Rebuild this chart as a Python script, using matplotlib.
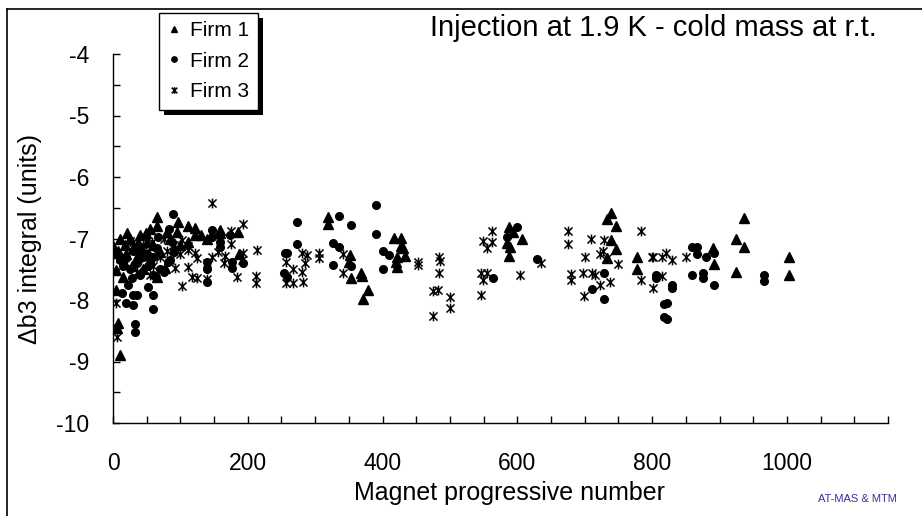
import numpy as np
import matplotlib
matplotlib.use("Agg")
import matplotlib.pyplot as plt
from matplotlib.path import Path
from matplotlib.lines import Line2D
from matplotlib.patches import Rectangle
from matplotlib.ticker import MultipleLocator

plt.rcParams['font.family'] = ['Liberation Sans', 'DejaVu Sans']
plt.rcParams['axes.unicode_minus'] = False

# Firm 1 (triangles)
firm1_x = [65, 65, 96, 111, 122, 49, 21, 10, 0, 0, 37, 70, 77, 4, 15, 4, 7, 6, 10, 95,
           111, 122, 159, 159, 186, 187, 65,
           25, 30, 35, 45, 50, 55, 20, 12, 40, 60, 85, 80, 28, 18, 8, 45, 55, 100, 90, 130, 140,
           319, 319, 352, 350, 368, 370, 353, 378, 371, 417, 427, 427, 430, 433, 421, 420, 421,
           588, 594, 585, 589, 607, 588,
           739, 733, 746, 739, 746, 733, 778, 778, 890, 892, 936, 925, 936, 925, 1003, 1003]
firm1_y = [-6.65, -6.80, -6.73, -6.80, -6.83, -6.91, -6.91, -7.01, -7.12, -7.24, -7.07, -7.22,
           -7.48, -7.51, -7.63, -7.84, -8.37, -8.46, -8.89, -6.89, -7.06, -6.94, -6.86, -6.91,
           -6.89, -7.25, -7.63,
           -7.00, -7.15, -7.30, -7.20, -7.05, -7.35, -7.25, -7.30, -6.95, -7.10, -7.00, -6.90,
           -7.45, -7.10, -7.20, -7.50, -6.85, -7.10, -7.15, -6.95, -7.00,
           -6.65, -6.76, -7.27, -7.38, -7.56, -7.61, -7.64, -7.84, -7.98, -6.99, -6.99, -7.12,
           -7.15, -7.28, -7.30, -7.38, -7.46,
           -6.81, -6.89, -7.07, -7.14, -7.01, -7.28,
           -6.59, -6.68, -6.80, -7.02, -7.17, -7.32, -7.30, -7.50, -7.15, -7.41, -6.67, -7.01,
           -7.14, -7.54, -7.30, -7.59]

# Firm 2 (circles)
firm2_x = [89, 83, 67, 147, 147, 159, 159, 139, 139, 139, 174, 177, 177, 193, 255, 258, 273, 273,
           254, 258, 13, 19, 30, 33, 33, 59, 59, 52, 30, 36, 88, 91, 85, 82, 52, 59, 64,
           20, 25, 35, 40, 45, 15, 30, 50, 55, 10, 40, 28, 22, 60, 70, 75, 65,
           335, 353, 326, 335, 326, 353, 390, 390, 401, 410, 401, 564, 600, 585,
           629, 729, 711, 729, 806, 806, 830, 830, 818, 822, 818, 822, 859, 867, 867, 880, 892,
           859, 876, 876, 892, 966, 966]
firm2_y = [-6.60, -6.85, -6.98, -6.86, -6.98, -7.06, -7.14, -7.38, -7.50, -7.71, -6.94, -7.38,
           -7.48, -7.40, -7.24, -7.24, -6.73, -7.09, -7.56, -7.63, -7.89, -8.05, -8.08, -8.39,
           -8.52, -7.92, -8.15, -7.79, -7.92, -7.92, -7.06, -7.22, -7.35, -7.38, -7.45, -7.59,
           -7.63,
           -7.30, -7.50, -7.40, -7.60, -7.30, -7.45, -7.20, -7.25, -7.40, -7.35, -7.15, -7.65,
           -7.75, -7.30, -7.50, -7.55, -7.15,
           -6.63, -6.78, -7.07, -7.14, -7.43, -7.45, -6.46, -6.93, -7.20, -7.27, -7.50, -7.64,
           -6.81, -6.98,
           -7.33, -7.56, -7.82, -7.98, -7.59, -7.64, -7.76, -7.80, -8.07, -8.05, -8.28, -8.31,
           -7.14, -7.14, -7.25, -7.30, -7.24, -7.59, -7.56, -7.64, -7.76, -7.59, -7.69]

# Firm 3 (stars)
firm3_x = [147, 193, 175, 175, 102, 214, 193, 191, 111, 111, 122, 125, 99, 92, 111, 117, 125,
           139, 139, 147, 156, 166, 165, 184, 212, 212, 257, 267, 257, 267, 102, 58, 25, 4, 6, 6,
           30, 40, 50, 60, 70, 80, 45, 75, 20, 35, 55, 85, 65, 90,
           280, 288, 285, 280, 282, 306, 306, 341, 341, 453, 453, 484, 485, 484, 475, 482, 500,
           500, 475, 562, 549, 562, 555, 546, 555, 549, 546, 604,
           635, 675, 675, 680, 680, 709, 729, 727, 723, 700, 733, 749, 697, 711, 715, 723, 738,
           699, 784, 784, 800, 801, 815, 821, 830, 815, 801, 850]
firm3_y = [-6.42, -6.76, -6.88, -7.09, -7.02, -7.19, -7.24, -7.35, -7.12, -7.19, -7.24, -7.32,
           -7.25, -7.48, -7.46, -7.63, -7.64, -7.40, -7.66, -7.30, -7.22, -7.28, -7.40, -7.63,
           -7.61, -7.72, -7.38, -7.50, -7.72, -7.72, -7.77, -7.06, -7.04, -8.05, -8.60, -8.46,
           -7.05, -7.25, -7.30, -7.45, -7.30, -7.20, -7.10, -7.00, -7.40, -7.55, -7.60, -7.35,
           -7.25, -7.10,
           -7.24, -7.27, -7.40, -7.54, -7.71, -7.24, -7.32, -7.25, -7.56, -7.38, -7.43, -7.30,
           -7.37, -7.56, -7.85, -7.84, -7.95, -8.13, -8.26, -6.88, -7.04, -7.06, -7.15, -7.56,
           -7.56, -7.67, -7.92, -7.59,
           -7.40, -6.88, -7.09, -7.58, -7.67, -7.01, -7.02, -7.20, -7.25, -7.30, -7.32, -7.41,
           -7.56, -7.56, -7.59, -7.76, -7.71, -7.93, -6.88, -7.67, -7.30, -7.30, -7.30, -7.24,
           -7.35, -7.61, -7.80, -7.30]

series_labels = ['Firm 1', 'Firm 2', 'Firm 3']

# asterisk-like marker: X plus a vertical bar
star = Path([(-1, -1), (1, 1), (-1, 1), (1, -1), (0, -1.2), (0, 1.2)],
            [Path.MOVETO, Path.LINETO, Path.MOVETO, Path.LINETO, Path.MOVETO, Path.LINETO])

fig = plt.figure(figsize=(9.22, 5.16), dpi=100)
ax = fig.add_axes([113 / 922, 1 - 423 / 516, 775 / 922, 369 / 516])

h1, = ax.plot(firm1_x, firm1_y, ls='none', marker='^', ms=6.5, color='black')
h2, = ax.plot(firm2_x, firm2_y, ls='none', marker='o', ms=5.5, color='black')
h3, = ax.plot(firm3_x, firm3_y, ls='none', marker=star, ms=7, mew=1.1, color='black')

ax.set_xlim(0, 1150)
ax.set_ylim(-10, -4)
ax.xaxis.set_major_locator(MultipleLocator(200))
ax.xaxis.set_minor_locator(MultipleLocator(50))
ax.yaxis.set_major_locator(MultipleLocator(1))
ax.yaxis.set_minor_locator(MultipleLocator(0.5))
for s in ['top', 'right']:
    ax.spines[s].set_visible(False)
for s in ['left', 'bottom']:
    ax.spines[s].set_linewidth(1.0)
ax.tick_params(which='both', direction='in', length=5, width=1)
ax.tick_params(axis='x', labelsize=16.5, pad=21)
ax.tick_params(axis='y', labelsize=16.5, pad=17)

ax.set_xlabel('Magnet progressive number', fontsize=18)
ax.xaxis.set_label_coords(0.512, -0.19)
ax.xaxis.label.set_va('center')
ax.set_ylabel('\u0394b3 integral (units)', fontsize=18)
ax.yaxis.set_label_coords(-0.107, 0.5)
ax.yaxis.label.set_va('center')

leg = fig.legend([h1, h2, h3], series_labels, loc='upper left',
                 bbox_to_anchor=(159 / 922, 1 - 13 / 516), borderaxespad=0, fontsize=15,
                 fancybox=False, edgecolor='black', framealpha=1, markerscale=0.7,
                 handlelength=0.6, handletextpad=0.5, borderpad=0.4, labelspacing=0.55)
leg.get_frame().set_linewidth(1.0)
leg.set_zorder(5)

fig.text(430 / 922, 1 - 36 / 516, 'Injection at 1.9 K - cold mass at r.t.', fontsize=21,
         ha='left', va='baseline')
fig.text(857 / 922, 1 - 499 / 516, 'AT-MAS & MTM', fontsize=8, color='#333399',
         ha='center', va='center')

# chart area border (left and top edges visible)
fig.add_artist(Line2D([7 / 922, 1], [1 - 9 / 516, 1 - 9 / 516], transform=fig.transFigure,
                      color='black', lw=1.2))
fig.add_artist(Line2D([7 / 922, 7 / 922], [0, 1 - 9 / 516], transform=fig.transFigure,
                      color='black', lw=1.2))

# solid black drop shadow behind the legend box
fig.canvas.draw()
bb = leg.get_frame().get_window_extent()
shadow = Rectangle((bb.x0 + 5, bb.y0 - 5), bb.width, bb.height, transform=None,
                   facecolor='black', edgecolor='none', zorder=4.9)
fig.add_artist(shadow)

fig.savefig('out.png', dpi=100)
